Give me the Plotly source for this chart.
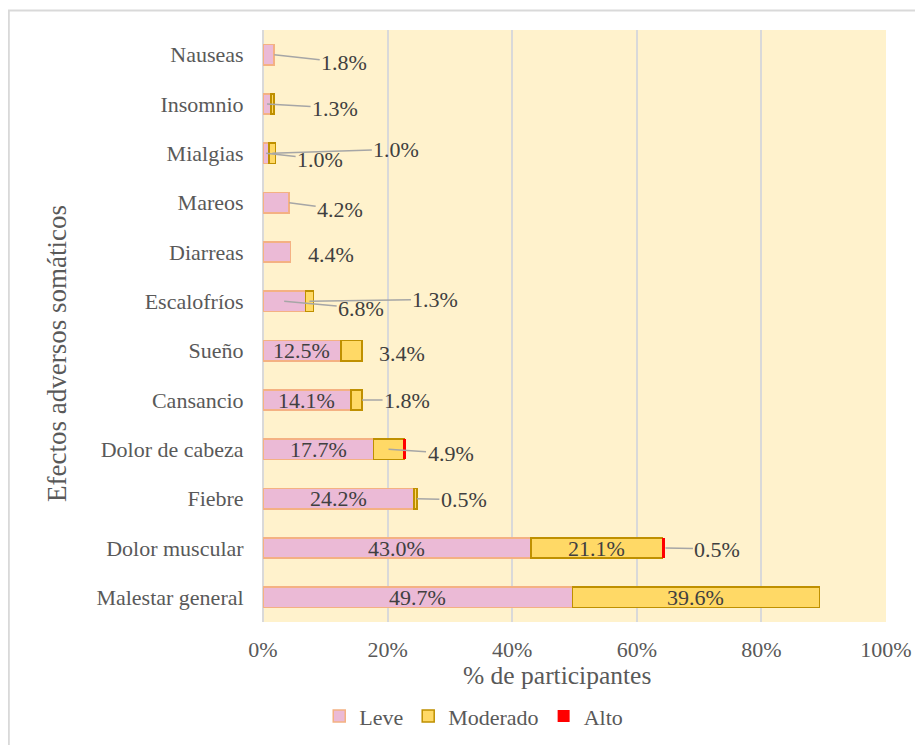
import plotly.graph_objects as go

# categories listed bottom -> top (plotly draws the first category at the bottom)
categories = ["Malestar general", "Dolor muscular", "Fiebre", "Dolor de cabeza",
              "Cansancio", "Sueño", "Escalofríos", "Diarreas", "Mareos",
              "Mialgias", "Insomnio", "Nauseas"]
leve = [49.7, 43.0, 24.2, 17.7, 14.1, 12.5, 6.8, 4.4, 4.2, 1.0, 1.3, 1.8]
moderado = [39.6, 21.1, 0.5, 4.9, 1.8, 3.4, 1.3, None, None, 1.0, 0.5, None]
alto = [None, 0.5, None, 0.3, None, None, None, None, None, None, None, None]

x_ticks = [0, 20, 40, 60, 80, 100]
x_tick_labels = ["0%", "20%", "40%", "60%", "80%", "100%"]

series = [
    ("Leve", leve, "#EBBAD6", "#F4B183", 1.5),
    ("Moderado", moderado, "#FFD966", "#BF9000", 1.5),
    ("Alto", alto, "#FF0000", "#FF0000", 0),
]

# where each label goes: inside the segment, or outside with pixel offset (and leader line)
# key: (category, series) -> (anchor, ax, ay, leader)
label_style = {
    ("Malestar general", "Leve"): "inside",
    ("Malestar general", "Moderado"): "inside",
    ("Dolor muscular", "Leve"): "inside",
    ("Dolor muscular", "Moderado"): "inside",
    ("Dolor muscular", "Alto"): ("end", 52, 1, True),
    ("Fiebre", "Leve"): "inside",
    ("Fiebre", "Moderado"): ("end", 47, 1, True),
    ("Dolor de cabeza", "Leve"): "inside",
    ("Dolor de cabeza", "Moderado"): ("mid", 62, 4, True),
    ("Cansancio", "Leve"): "inside",
    ("Cansancio", "Moderado"): ("end", 45, 0, True),
    ("Sueño", "Leve"): "inside",
    ("Sueño", "Moderado"): ("end", 40, 3, False),
    ("Escalofríos", "Leve"): ("mid", 77, 7, True),
    ("Escalofríos", "Moderado"): ("mid", 126, -2, True),
    ("Diarreas", "Leve"): ("end", 41, 2, False),
    ("Mareos", "Leve"): ("end", 51, 7, True),
    ("Mialgias", "Leve"): ("mid", 54, 6, True),
    ("Mialgias", "Moderado"): ("mid", 124, -4, True),
    ("Insomnio", "Leve"): ("mid", 68, 4, True),
    ("Nauseas", "Leve"): ("end", 70, 8, True),
}

SERIF = "Liberation Serif, Times New Roman, serif"
label_font = dict(family=SERIF, size=22, color="#404040")
axis_font = dict(family=SERIF, size=22, color="#595959")

fig = go.Figure()
for name, vals, fill, edge, lw in series:
    fig.add_trace(go.Bar(
        y=categories, x=vals, name=name, orientation="h",
        marker=dict(color=fill, line=dict(color=edge, width=lw)),
    ))

annotations = []
base = [0.0] * len(categories)
for name, vals, fill, edge, lw in series:
    for i, cat in enumerate(categories):
        v = vals[i]
        if v is None:
            continue
        style = label_style.get((cat, name))
        if style is not None:
            text = f"{v:.1f}%"
            if style == "inside":
                annotations.append(dict(x=base[i] + v / 2, y=cat, text=text,
                                        showarrow=False, font=label_font))
            else:
                anchor, ax, ay, leader = style
                xa = base[i] + v if anchor == "end" else base[i] + v / 2
                if leader:
                    annotations.append(dict(x=xa, y=cat, text=text, showarrow=True,
                                            arrowhead=0, arrowwidth=1.5, arrowcolor="#A6A6A6",
                                            ax=ax, ay=ay, font=label_font))
                else:
                    annotations.append(dict(x=xa, y=cat, text=text, showarrow=False,
                                            xshift=ax, yshift=-ay, font=label_font))
        base[i] += v

# axis titles (placed like the Excel original, a bit off-centre)
annotations.append(dict(text="% de participantes", xref="paper", yref="paper",
                        x=0.472, y=-0.091, xanchor="center", yanchor="middle",
                        showarrow=False,
                        font=dict(family=SERIF, size=25.5, color="#595959")))
annotations.append(dict(text="Efectos adversos somáticos", xref="paper", yref="paper",
                        x=-0.331, y=0.454, xanchor="center", yanchor="middle",
                        textangle=-90, showarrow=False,
                        font=dict(family=SERIF, size=27, color="#595959")))

fig.update_layout(
    width=915, height=737,
    barmode="stack", bargap=0.59,
    plot_bgcolor="#FFF2CC", paper_bgcolor="white",
    margin=dict(l=255, r=37, t=22, b=123),
    font=axis_font,
    annotations=annotations,
    xaxis=dict(range=[0, 100], tickvals=x_ticks, ticktext=x_tick_labels,
               showgrid=True, gridcolor="#D9D9D9", gridwidth=1.5,
               zeroline=True, zerolinecolor="#D9D9D9", zerolinewidth=1.5,
               ticks="outside", ticklen=8, tickcolor="rgba(0,0,0,0)"),
    yaxis=dict(ticks="outside", ticklen=14, tickcolor="rgba(0,0,0,0)",
               showgrid=False),
    legend=dict(orientation="h", xref="container", yref="container",
                x=0.509, xanchor="center", y=0.039, yanchor="middle",
                font=axis_font, traceorder="normal", itemwidth=30),
    shapes=[dict(type="rect", xref="paper", yref="paper",
                 x0=-0.408, x1=1.1, y0=-0.25, y1=1.033,
                 line=dict(color="#D9D9D9", width=2), layer="below")],
)

fig.write_html("out.html")
